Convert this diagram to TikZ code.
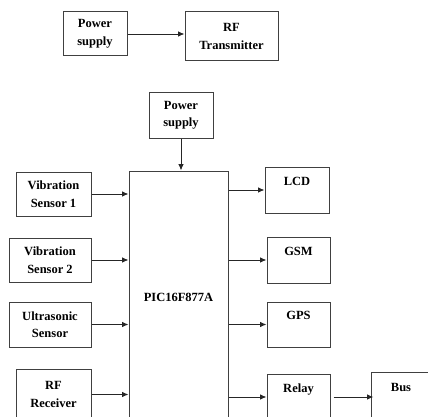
\documentclass[tikz,border=0pt]{standalone}
\usepackage{fontspec}
\setmainfont{Liberation Serif}
\usetikzlibrary{arrows.meta}
\begin{document}
\begin{tikzpicture}[x=1pt,y=-1pt,
  blk/.style={draw=black!75,line width=1pt,inner sep=0pt,align=center,
    font=\fontsize{12.5}{17.5}\selectfont\bfseries},
  arr/.style={draw=black!85,line width=0.9pt,-{Latex[length=6.5pt,width=5.5pt]}}]
\useasboundingbox (0,0) rectangle (428,417);
\clip (0,0) rectangle (428,417);
% top section
\node[blk,minimum width=64pt,minimum height=44pt] (ps1) at (95,34) {Power\\supply};
\node[blk,minimum width=93pt,minimum height=49pt] (rft) at (231.5,36.5) {RF\\Transmitter};
\draw[arr] (ps1.east) -- (ps1.east -| rft.west);
% main
\node[blk,minimum width=64pt,minimum height=45pt] (ps2) at (181,115.5) {Power\\supply};
\node[blk,minimum width=99pt,minimum height=253pt] (pic) at (178.5,297.5) {PIC16F877A};
\draw[arr] (ps2.south) -- (ps2.south |- pic.north);
% inputs
\node[blk,minimum width=75pt,minimum height=44pt] (vs1) at (53.5,194) {Vibration\\Sensor 1};
\node[blk,minimum width=82pt,minimum height=44pt] (vs2) at (50,260) {Vibration\\Sensor 2};
\node[blk,minimum width=82pt,minimum height=45pt] (us) at (50,324.5) {Ultrasonic\\Sensor};
\node[blk,minimum width=75pt,minimum height=51pt] (rfr) at (53.5,394.5) {RF\\Receiver};
\draw[arr] (vs1.east) -- (vs1.east -| pic.west);
\draw[arr] (vs2.east) -- (vs2.east -| pic.west);
\draw[arr] (us.east) -- (us.east -| pic.west);
\draw[arr] (rfr.east) -- (rfr.east -| pic.west);
% outputs
\node[blk,minimum width=64pt,minimum height=46pt] (lcd) at (297,190) {LCD\\\mbox{}};
\node[blk,minimum width=63pt,minimum height=46pt] (gsm) at (298.5,260) {GSM\\\mbox{}};
\node[blk,minimum width=63pt,minimum height=45pt] (gps) at (298.5,324.5) {GPS\\\mbox{}};
\node[blk,minimum width=63pt,minimum height=46pt] (rly) at (298.5,397) {Relay\\\mbox{}};
\node[blk,minimum width=60pt,minimum height=48pt] (bus) at (401,396) {Bus\\\mbox{}};
\draw[arr] (pic.east |- lcd.west) -- (lcd.west);
\draw[arr] (pic.east |- gsm.west) -- (gsm.west);
\draw[arr] (pic.east |- gps.west) -- (gps.west);
\draw[arr] (pic.east |- rly.west) -- (rly.west);
\draw[arr] ([xshift=3pt]rly.east) -- ([xshift=3pt]rly.east -| bus.west);
\end{tikzpicture}
\end{document}
